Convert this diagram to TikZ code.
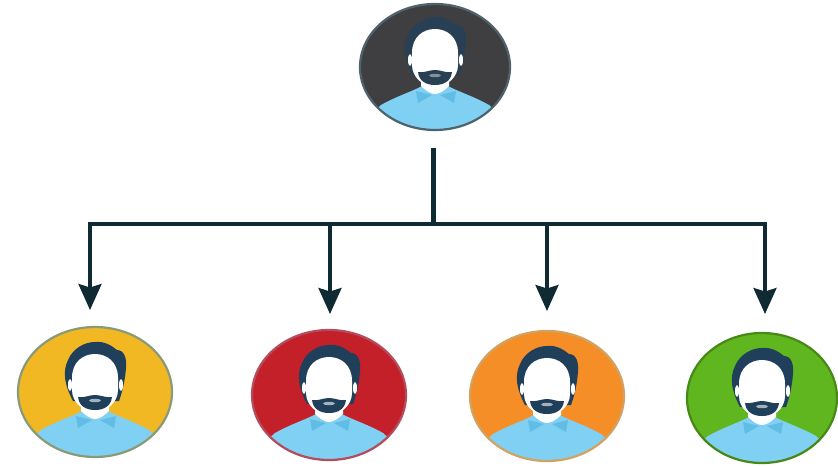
\documentclass[tikz,border=0pt]{standalone}
\usetikzlibrary{shapes.geometric,arrows.meta}
\definecolor{skyb}{HTML}{7FD0F2}
\definecolor{collarb}{HTML}{62BDE6}
\definecolor{hairb}{HTML}{1F3F5B}
\definecolor{linec}{HTML}{0F2A33}
\definecolor{cdark}{HTML}{3F3F41}
\definecolor{cyellow}{HTML}{F2B824}
\definecolor{cred}{HTML}{C4202A}
\definecolor{corange}{HTML}{F58E26}
\definecolor{cgreen}{HTML}{5FB61E}
\tikzset{
  conn/.style={line width=3.2pt,color=linec,line cap=butt,line join=miter},
  arrowconn/.style={conn,-{Stealth[width=23pt,length=26pt,inset=3.5pt]}}
}
% name, x, y, rx, ry, fill, border, hair colour
\newcommand{\personfig}[8]{
  \node[ellipse,inner sep=0pt,minimum width=#4*2pt,minimum height=#5*2pt,fill=#6] (#1) at (#2,#3) {};
  \begin{scope}
    \clip (#2,#3) ellipse [x radius=#4-0.8,y radius=#5-0.8];
    \begin{scope}[shift={(#2,#3)}]
      % body
      \fill[skyb] (-90,70) -- (-54,38) .. controls (-38,29) and (-24,25) .. (-13,19)
        -- (13,19) .. controls (24,25) and (38,29) .. (54,38) -- (90,70) -- cycle;
      % collar
      \fill[collarb] (-19,24) -- (-3,28) -- (-17,36) -- cycle;
      \fill[collarb] (21,24) -- (5,28) -- (19,36) -- cycle;
      % neck
      \fill[white] (-14,10) -- (14,10) -- (14,19) .. controls (9,24) and (4,27) .. (0,27) .. controls (-4,27) and (-9,24) .. (-14,19) -- cycle;
      % hair
      \fill[#8] (-22,9) .. controls (-30,-6) and (-33,-20) .. (-27,-32)
        .. controls (-22,-44) and (-10,-50) .. (0,-50)
        .. controls (10,-51) and (17,-46) .. (22,-42)
        .. controls (29,-42) and (32,-34) .. (31,-24)
        .. controls (30,-12) and (28,-2) .. (24,9) -- cycle;
      % ear slivers
      \fill[white] (-25,-7) ellipse [x radius=2,y radius=6];
      \fill[white] (26,-7) ellipse [x radius=2,y radius=6];
      % face
      \fill[white] (-23,-14) .. controls (-23,-30) and (-12,-38) .. (0,-38)
        .. controls (12,-38) and (23,-30) .. (23,-14)
        -- (23,-2) .. controls (23,10) and (12,20) .. (0,20)
        .. controls (-12,20) and (-23,10) .. (-23,-2) -- cycle;
      % beard
      \fill[#8] (-17,5) .. controls (-10,6) and (-6,3) .. (0,3)
        .. controls (6,3) and (10,6) .. (17,5)
        .. controls (16,14) and (9,18) .. (0,18)
        .. controls (-9,18) and (-16,14) .. (-17,5) -- cycle;
      \fill[white!60!#8] (0,8.5) ellipse [x radius=6,y radius=1.7];
    \end{scope}
  \end{scope}
  \draw[#7,line width=2.2pt] (#2,#3) ellipse [x radius=#4,y radius=#5];
}
\begin{document}
\begin{tikzpicture}[x=1pt,y=-1pt]
\useasboundingbox (0,0) rectangle (838,466);
\personfig{boss}{435}{67}{75}{63}{cdark}{cdark!75!skyb}{hairb!70!cdark}
\personfig{pa}{95}{392}{77}{65}{cyellow}{cyellow!60!black!55!skyb}{hairb}
\personfig{pb}{329}{395}{77}{65}{cred}{cred!75!skyb}{hairb}
\personfig{pc}{547}{396}{77}{65}{corange}{corange!70!skyb}{hairb}
\personfig{pd}{762}{398}{75}{65}{cgreen}{cgreen!75!black}{hairb}
\coordinate (trunktop) at (433.5,148);
\coordinate (junction) at (433.5,224);
\coordinate (ca) at (90,224);
\coordinate (cb) at (330,224);
\coordinate (cc) at (547,224);
\coordinate (cd) at (765,224);
\coordinate (ta) at (90,310);
\coordinate (tb) at (330,314);
\coordinate (tc) at (547,311);
\coordinate (td) at (765,314);
\draw[conn,line width=5pt] (trunktop) -- (junction);
\draw[conn] ([xshift=-1.6pt]ca) -- (junction) -- ([xshift=1.6pt]cd);
\draw[arrowconn] ([yshift=-1.6pt]ca) -- (ta);
\draw[arrowconn] (cb) -- (tb);
\draw[arrowconn] (cc) -- (tc);
\draw[arrowconn] ([yshift=-1.6pt]cd) -- (td);
\end{tikzpicture}
\end{document}
